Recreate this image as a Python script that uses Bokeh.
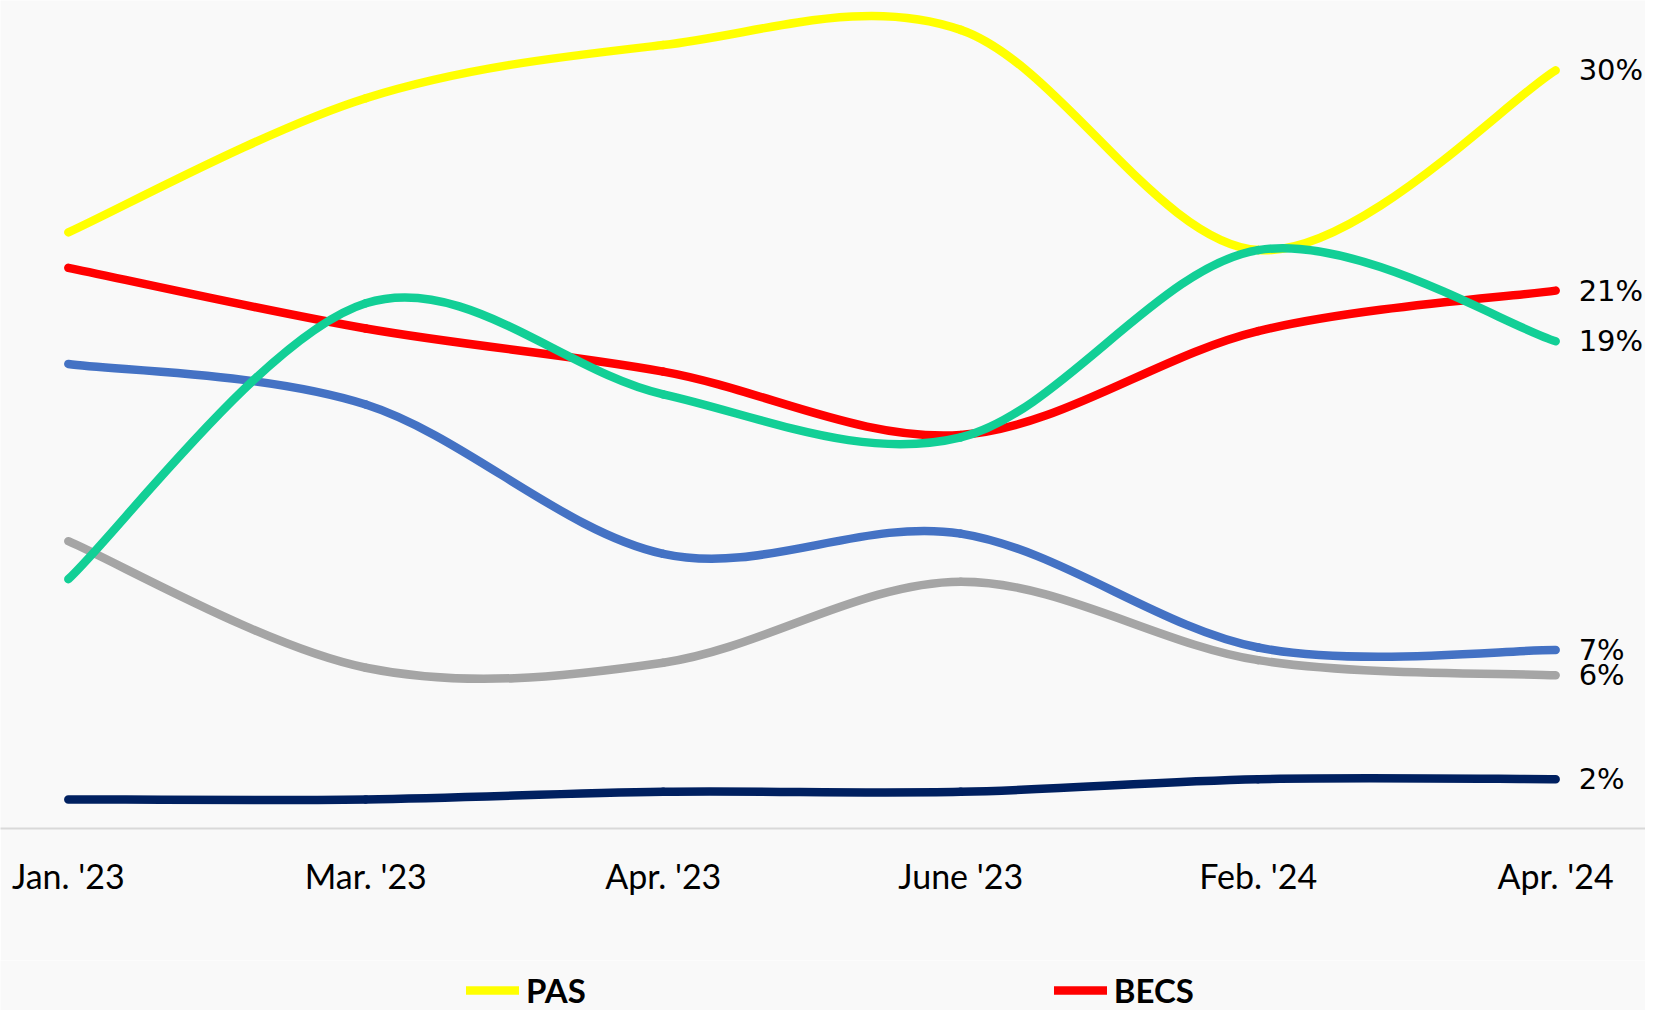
from bokeh.plotting import figure
from bokeh.layouts import column
from bokeh.models import FixedTicker, ColumnDataSource, Range1d
from bokeh.core.properties import value
from bokeh.embed import file_html
from bokeh.resources import INLINE

# ---- data ----
periods = ["Jan. '23", "Mar. '23", "Apr. '23", "June '23", "Feb. '24", "Apr. '24"]
pas = [23.6, 28.9, 31.0, 31.6, 22.9, 30.0]
becs = [22.2, 19.8, 18.1, 15.6, 19.7, 21.3]
blue_series = [18.4, 16.8, 10.9, 11.7, 7.2, 7.1]
gray_series = [11.4, 6.4, 6.6, 9.8, 6.7, 6.1]
green_series = [9.9, 20.8, 17.2, 15.5, 22.9, 19.3]
navy_series = [1.2, 1.2, 1.5, 1.5, 2.0, 2.0]

series = [
    ("PAS", pas, "#FFFF00"),
    ("BECS", becs, "#FF0000"),
    ("s3", blue_series, "#4472C4"),
    ("s4", gray_series, "#A5A5A5"),
    ("s5", green_series, "#12CF96"),
    ("s6", navy_series, "#002060"),
]
legend_names = ["PAS", "BECS"]

xs = list(range(len(periods)))


def smooth_segments(x, y):
    """Catmull-Rom style cubic Bezier segments through the data points."""
    n = len(x)
    d = dict(x0=[], y0=[], x1=[], y1=[], cx0=[], cy0=[], cx1=[], cy1=[])
    for i in range(n - 1):
        xp, yp = (x[i - 1], y[i - 1]) if i > 0 else (x[i], y[i])
        xn, yn = (x[i + 2], y[i + 2]) if i + 2 < n else (x[i + 1], y[i + 1])
        d["x0"].append(x[i]); d["y0"].append(y[i])
        d["x1"].append(x[i + 1]); d["y1"].append(y[i + 1])
        d["cx0"].append(x[i] + (x[i + 1] - xp) / 6.0)
        d["cy0"].append(y[i] + (y[i + 1] - yp) / 6.0)
        d["cx1"].append(x[i + 1] - (xn - x[i]) / 6.0)
        d["cy1"].append(y[i + 1] - (yn - y[i]) / 6.0)
    return ColumnDataSource(d)


BG = "#f9f9f9"
W = 1645
H_MAIN = 960
H_LEG = 50

p = figure(width=W, height=H_MAIN, output_backend="svg", toolbar_location=None,
           x_range=Range1d(-0.228, 5.302), y_range=Range1d(0.05, 32.76),
           min_border_left=0, min_border_right=0, min_border_top=0,
           min_border_bottom=H_MAIN - 828,
           background_fill_color=BG, border_fill_color=BG, outline_line_color=None)

for name, vals, color in series:
    src = smooth_segments(xs, vals)
    p.bezier(x0="x0", y0="y0", x1="x1", y1="y1", cx0="cx0", cy0="cy0",
             cx1="cx1", cy1="cy1", source=src, line_color=color,
             line_width=8.5, line_cap="round")

# end labels
lab_src = ColumnDataSource(dict(
    x=[xs[-1]] * len(series),
    y=[s[1][-1] for s in series],
    t=[f"{round(s[1][-1])}%" for s in series],
))
p.text(x="x", y="y", text="t", source=lab_src, x_offset=23,
       text_align="left", text_baseline="middle",
       text_font=value("DejaVu Sans"), text_font_size="29px", text_color="#000000")

# axes / grids
p.yaxis.visible = False
p.xgrid.visible = False
p.ygrid.visible = False
ax = p.xaxis[0]
ax.ticker = FixedTicker(ticks=xs)
ax.major_label_overrides = {i: lab for i, lab in enumerate(periods)}
ax.axis_line_color = "#d9d9d9"
ax.axis_line_width = 2
ax.major_tick_line_color = None
ax.minor_tick_line_color = None
ax.major_label_standoff = 20
ax.major_label_text_font = "Lato"
ax.major_label_text_font_size = "34px"
ax.major_label_text_color = "#000000"

# ---- legend strip (first legend row) ----
pl = figure(width=W, height=H_LEG, output_backend="svg", toolbar_location=None,
            x_range=Range1d(0, 1), y_range=Range1d(0, 1),
            min_border_left=0, min_border_right=0, min_border_top=0, min_border_bottom=0,
            background_fill_color=BG, border_fill_color=BG, outline_line_color=None)
pl.xaxis.visible = False
pl.yaxis.visible = False
pl.xgrid.visible = False
pl.ygrid.visible = False
nan = float("nan")
for name, vals, color in series:
    if name in legend_names:
        # legend-only renderer: no visible data in this strip
        pl.line(x=[nan], y=[nan], line_color=color, line_width=8.5, line_cap="round",
                legend_label=name)
lg = pl.legend[0]
lg.orientation = "horizontal"
lg.location = (466, 0)
lg.glyph_width = 53
lg.glyph_height = 34
lg.label_height = 34
lg.label_standoff = 7
lg.spacing = 468
lg.padding = 0
lg.margin = 0
lg.border_line_alpha = 0
lg.background_fill_alpha = 0
lg.label_text_font = "Lato"
lg.label_text_font_size = "33px"
lg.label_text_font_style = "bold"
lg.label_text_color = "#000000"

layout = column(p, pl, spacing=0)
open("out.html", "w").write(file_html(layout, INLINE))
